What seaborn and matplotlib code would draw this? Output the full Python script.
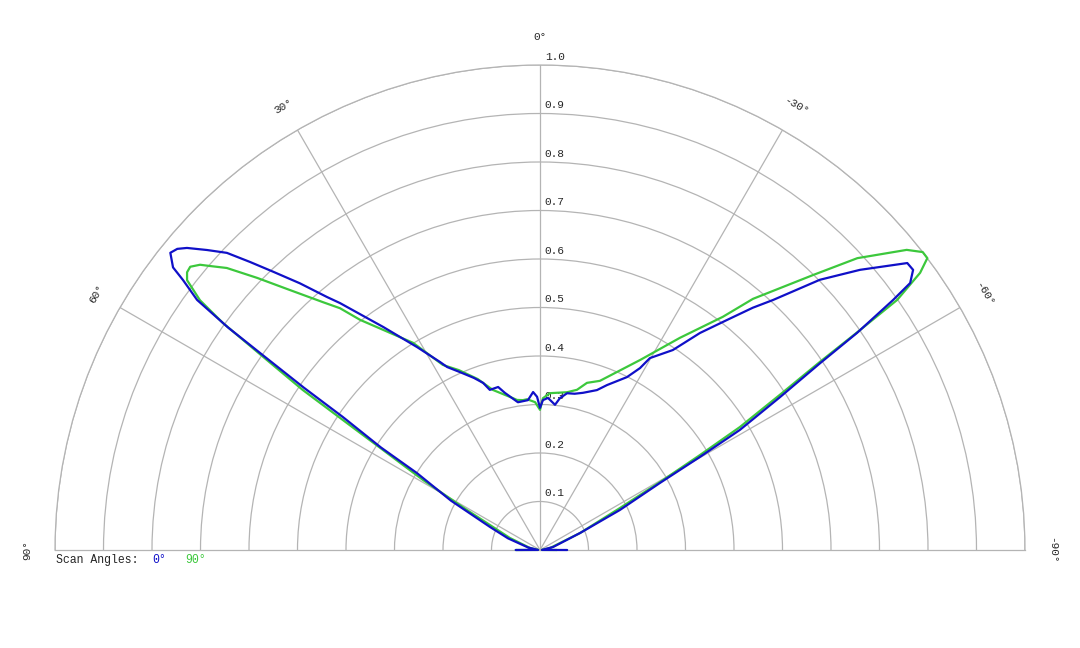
import numpy as np
import pandas as pd
import seaborn as sns
import matplotlib.pyplot as plt

# polar angles in degrees (0 = straight up, positive to the left)
theta_scan0 = [90, 88, 78, 70, 65.3, 61, 58, 57.2, 56, 55.5, 54.9, 54.5, 53.9, 52.9, 52.4,
               51.2, 50.3, 49.45, 47.98, 46.5, 45.2, 43.8, 42.0, 40.1, 39.0, 35.1, 31.2, 28.0,
               26.9, 24.2, 21, 18.8, 17.4, 14.4, 12.6, 8.5, 4.6, 2.5, 1.1, 0, -1.1, -3.0, -5.9,
               -7.5, -9.8, -12.5, -15.3, -19.6, -22.1, -26.7, -28.8, -29.8, -33.6, -36.4, -39.1,
               -41.3, -43.0, -46.0, -48.8, -52.0, -53.1, -54.2, -54.7, -55.6, -56.3, -57.5, -59.0,
               -59.8, -60.8, -63.4, -67, -77, -88, -90]
r_scan0 = [0.05, 0.004, 0.025, 0.07, 0.113, 0.21, 0.299, 0.39, 0.49, 0.59, 0.698, 0.79, 0.875,
           0.923, 0.955, 0.978, 0.972, 0.958, 0.924, 0.890, 0.843, 0.795, 0.740, 0.682, 0.655,
           0.562, 0.489, 0.439, 0.423, 0.402, 0.38, 0.364, 0.346, 0.347, 0.332, 0.308, 0.310,
           0.326, 0.316, 0.293, 0.309, 0.314, 0.301, 0.316, 0.328, 0.330, 0.336, 0.350, 0.367,
           0.399, 0.428, 0.456, 0.495, 0.556, 0.611, 0.665, 0.705, 0.802, 0.877, 0.961, 0.962,
           0.941, 0.892, 0.792, 0.694, 0.587, 0.481, 0.382, 0.283, 0.184, 0.090, 0.028, 0.004,
           0.056]

theta_scan90 = [90, 88, 78.7, 68.2, 61.3, 59.1, 57.5, 56.6, 56.0, 55.1, 54.4, 53.7, 52.6, 51.8,
                51.0, 50.0, 49.3, 48.0, 46.1, 43.9, 41.2, 39.6, 38.0, 31.5, 27.7, 24.3, 20, 16.4,
                10.1, 8.7, 6.5, 4.9, 1.9, 0, -1.1, -3.6, -9.7, -13.0, -15.7, -19.5, -23.4, -27.8,
                -33.4, -38.1, -40.3, -44.8, -47.4, -50.7, -52.1, -53.0, -53.9, -55.0, -55.5,
                -56.1, -57.1, -58.4, -59.3, -60.5, -62.3, -67, -79, -88, -90]
r_scan90 = [0.05, 0.004, 0.021, 0.067, 0.172, 0.281, 0.384, 0.487, 0.590, 0.696, 0.804, 0.870,
            0.916, 0.926, 0.928, 0.915, 0.898, 0.869, 0.809, 0.744, 0.679, 0.647, 0.602, 0.501,
            0.431, 0.407, 0.375, 0.344, 0.318, 0.313, 0.311, 0.312, 0.305, 0.289, 0.313, 0.324,
            0.330, 0.339, 0.358, 0.370, 0.400, 0.443, 0.524, 0.611, 0.679, 0.799, 0.889, 0.977,
            1.0, 1.0, 0.970, 0.899, 0.801, 0.695, 0.589, 0.484, 0.384, 0.284, 0.186, 0.090,
            0.021, 0.004, 0.035]

angle_ticks = [90, 60, 30, 0, -30, -60, -90]
radial_ticks = [0.1, 0.2, 0.3, 0.4, 0.5, 0.6, 0.7, 0.8, 0.9, 1.0]
scan_labels = ["0°", "90°"]

blue = "#1010c8"
green = "#3cc83c"
grid_col = "#b4b4b4"

sns.set_style("white")
plt.rcParams['font.family'] = ['Liberation Mono', 'DejaVu Sans Mono']

fig = plt.figure(figsize=(10.8, 6.48), dpi=100)
# the half-disc gets centred inside a square axes box, so the square is
# 970px wide and extends 242.5px above and below the wedge
ax = fig.add_axes([55 / 1080, (648 - 792.5) / 648, 970 / 1080, 970 / 648],
                  projection='polar')
ax.set_theta_zero_location('N')
ax.set_theta_direction(1)
ax.set_thetamin(-90)
ax.set_thetamax(90)
ax.set_ylim(0, 1)

ax.set_xticks(np.radians([-60, -30, 0, 30, 60]))
ax.set_xticklabels([])
ax.set_yticks(radial_ticks)
ax.set_yticklabels([])
ax.tick_params(length=0)
ax.grid(True, color=grid_col, lw=0.9)
for sp in ax.spines.values():
    sp.set_color(grid_col)
    sp.set_linewidth(0.9)

df0 = pd.DataFrame({"theta": np.radians(theta_scan0), "r": r_scan0})
df90 = pd.DataFrame({"theta": np.radians(theta_scan90), "r": r_scan90})
sns.lineplot(data=df90, x="theta", y="r", ax=ax, color=green, lw=1.6, sort=False, zorder=5)
sns.lineplot(data=df0, x="theta", y="r", ax=ax, color=blue, lw=1.6, sort=False, zorder=6)
for ln in ax.lines:
    ln.set_clip_on(False)
ax.set_xlabel("")
ax.set_ylabel("")

# angle labels around the rim
for t in angle_ticks:
    ax.text(np.radians(t), 1.057, f"{t}°", rotation=t, rotation_mode='anchor',
            ha='center', va='center', fontsize=8, clip_on=False)

# radial labels next to the 0° line
for v in radial_ticks:
    ax.annotate(f"{v:.1f}", xy=(0, v), xytext=(3.5, 2.5), textcoords='offset points',
                ha='left', va='bottom', fontsize=8, zorder=3)

fig.text(56 / 1080, 1 - 560 / 648, "Scan Angles:", fontsize=8.3, va='center')
fig.text(152 / 1080, 1 - 560 / 648, scan_labels[0], fontsize=8.3, va='center', color=blue)
fig.text(185 / 1080, 1 - 560 / 648, scan_labels[1], fontsize=8.3, va='center', color=green)

plt.savefig("out.png", dpi=100)
